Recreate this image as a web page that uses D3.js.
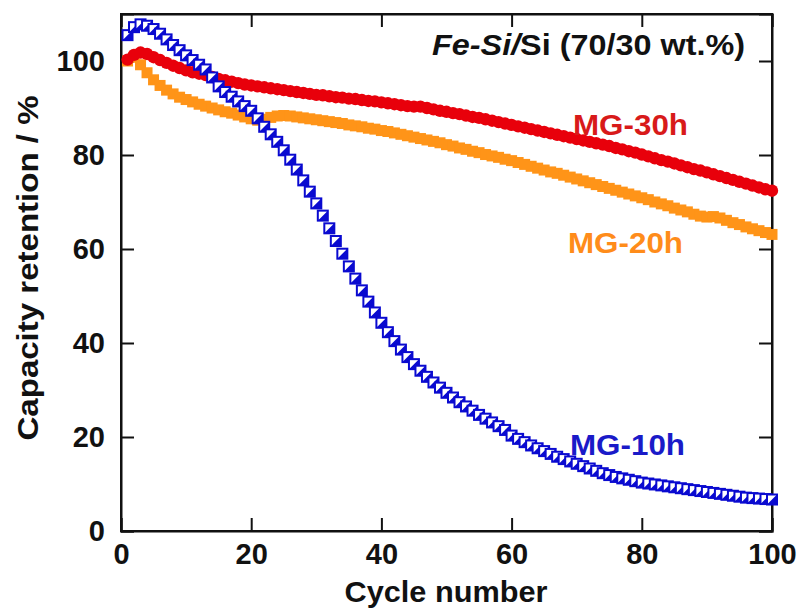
<!DOCTYPE html>
<html>
<head>
<meta charset="utf-8">
<script src="https://cdn.jsdelivr.net/npm/d3@7"></script>
<style>
html,body{margin:0;padding:0;background:#fff;}
svg{display:block;font-family:"Liberation Sans",Arial,sans-serif;}
</style>
</head>
<body>
<svg id="chart" width="802" height="609"></svg>
<script>
const cycles = [1,2,3,4,5,6,7,8,9,10,11,12,13,14,15,16,17,18,19,20,21,22,23,24,25,26,27,28,29,30,31,32,33,34,35,36,37,38,39,40,41,42,43,44,45,46,47,48,49,50,51,52,53,54,55,56,57,58,59,60,61,62,63,64,65,66,67,68,69,70,71,72,73,74,75,76,77,78,79,80,81,82,83,84,85,86,87,88,89,90,91,92,93,94,95,96,97,98,99,100];

const mg30h = [100.3,101.3,101.8,101.5,100.8,100.2,99.6,99.0,98.5,98.0,
97.6,97.3,97.0,96.6,96.2,95.9,95.6,95.3,95.0,94.8,
94.6,94.4,94.2,94.0,93.8,93.6,93.4,93.2,93.0,92.8,
92.7,92.5,92.3,92.2,92.0,91.9,91.7,91.5,91.4,91.2,
91.0,90.8,90.6,90.4,90.3,90.3,90.0,89.7,89.4,89.2,
88.9,88.7,88.4,88.1,87.9,87.6,87.3,87.0,86.7,86.4,
86.1,85.8,85.5,85.2,84.9,84.6,84.3,84.0,83.7,83.4,
83.1,82.8,82.5,82.2,81.9,81.5,81.2,80.8,80.5,80.1,
79.7,79.3,78.9,78.6,78.2,77.8,77.4,77.0,76.7,76.3,
75.9,75.5,75.1,74.7,74.3,73.9,73.5,73.1,72.7,72.4];

const mg20h = [100.0,100.8,99.2,97.5,96.0,94.8,93.8,93.0,92.3,91.8,
91.3,90.8,90.4,90.0,89.6,89.2,88.9,88.5,88.1,87.7,
87.4,87.6,88.0,88.3,88.4,88.3,88.1,87.9,87.7,87.5,
87.3,87.1,86.9,86.7,86.4,86.2,86.0,85.7,85.5,85.2,
85.0,84.7,84.4,84.1,83.8,83.5,83.2,82.9,82.6,82.2,
81.9,81.5,81.2,80.8,80.5,80.1,79.8,79.5,79.1,78.8,
78.4,78.0,77.6,77.2,76.8,76.4,76.1,75.7,75.3,74.9,
74.5,74.1,73.7,73.3,72.9,72.5,72.1,71.7,71.3,70.9,
70.5,70.0,69.6,69.2,68.7,68.3,67.9,67.4,67.0,66.8,
66.9,66.6,66.1,65.6,65.2,64.7,64.3,63.9,63.5,63.1];

const mg10h = [105.5,107.2,107.8,107.5,106.8,105.8,104.6,103.4,102.3,101.2,
100.2,99.2,98.2,96.5,94.6,93.4,92.4,91.4,90.4,89.4,
87.8,86.0,84.4,82.8,81.0,79.0,76.9,74.6,72.2,69.7,
67.1,64.4,61.7,59.0,56.3,53.7,51.2,48.8,46.5,44.3,
42.3,40.4,38.6,37.0,35.5,34.1,32.8,31.6,30.5,29.4,
28.4,27.4,26.5,25.6,24.7,23.9,23.1,22.3,21.5,20.3,
19.6,18.9,18.2,17.6,17.0,16.4,15.8,15.3,14.8,14.3,
13.8,13.3,12.8,12.3,11.9,11.5,11.2,10.9,10.6,10.3,
10.1,9.9,9.7,9.5,9.3,9.1,8.9,8.7,8.5,8.3,
8.1,7.9,7.7,7.5,7.3,7.1,7.0,6.9,6.8,6.7];

const xTicks = [0,20,40,60,80,100];
const yTicks = [0,20,40,60,80,100];
const seriesNames = ["MG-30h","MG-20h","MG-10h"];
const titleParts = ["Fe-Si/","Si (70/30 wt.%)"];
const xLabel = "Cycle number";
const yLabel = "Capacity retention / %";

const svg = d3.select("#chart");
const W = 802, H = 609;
const m = {left:121, top:14, right:30, bottom:78};
const x = d3.scaleLinear().domain([0,100]).range([m.left, W - m.right]);
const y = d3.scaleLinear().domain([0,110]).range([H - m.bottom, m.top]);

const red = "#e8000b", orange = "#ff9418", blue = "#0a0ad0";

// frame
svg.append("rect").attr("x", x(0)).attr("y", y(110)).attr("width", x(100)-x(0)).attr("height", y(0)-y(110))
  .attr("fill","none").attr("stroke","#111").attr("stroke-width",2);

const tl = 13;
// axes with inward ticks
const xb = svg.append("g").attr("transform",`translate(0,${y(0)})`)
  .call(d3.axisBottom(x).tickValues(xTicks).tickSize(-tl).tickPadding(12).tickFormat(d3.format("d")));
const xt = svg.append("g").attr("transform",`translate(0,${y(110)})`)
  .call(d3.axisTop(x).tickValues(xTicks).tickSize(-tl).tickFormat(""));
const yl = svg.append("g").attr("transform",`translate(${x(0)},0)`)
  .call(d3.axisLeft(y).tickValues(yTicks).tickSize(-tl).tickPadding(16).tickFormat(d3.format("d")));
const yr = svg.append("g").attr("transform",`translate(${x(100)},0)`)
  .call(d3.axisRight(y).tickValues(yTicks).tickSize(-tl).tickFormat(""));
[xb,xt,yl,yr].forEach(g=>{
  g.select(".domain").attr("stroke","#111").attr("stroke-width",2);
  g.selectAll(".tick line").attr("stroke","#111").attr("stroke-width",2);
  g.selectAll(".tick text").attr("fill","#111").attr("font-size",29).attr("font-weight","bold")
   .attr("font-family","'Liberation Sans',Arial,sans-serif");
});
xb.selectAll(".tick text").attr("dy","0.71em");

// data series
const plot = svg.append("g");
// MG-20h orange squares
const s2 = 11;
plot.append("g").selectAll("rect").data(cycles).join("rect")
  .attr("x", (d,i)=>x(d)-s2/2).attr("y",(d,i)=>y(mg20h[i])-s2/2)
  .attr("width",s2).attr("height",s2).attr("fill",orange);
// MG-30h red circles
plot.append("g").selectAll("circle").data(cycles).join("circle")
  .attr("cx",(d)=>x(d)).attr("cy",(d,i)=>y(mg30h[i])).attr("r",6.2).attr("fill",red);
// MG-10h blue half-filled squares
const s1 = 10;
const bg = plot.append("g");
cycles.forEach((d,i)=>{
  const cx = x(d), cy = y(mg10h[i]);
  const g = bg.append("g").attr("transform",`translate(${cx},${cy})`);
  g.append("rect").attr("x",-s1/2).attr("y",-s1/2).attr("width",s1).attr("height",s1)
    .attr("fill","#fff").attr("stroke",blue).attr("stroke-width",2);
  g.append("path").attr("d",`M${s1/2},${-s1/2}L${s1/2},${s1/2}L${-s1/2},${s1/2}Z`).attr("fill",blue);
});

// labels
const lab = [
  {t:seriesNames[0], x:573, y:135, c:"#d81a1a"},
  {t:seriesNames[1], x:568, y:253, c:"#ff8c1a"},
  {t:seriesNames[2], x:570, y:455, c:"#1a1ac8"}
];
svg.append("g").selectAll("text").data(lab).join("text")
  .attr("x",d=>d.x).attr("y",d=>d.y).attr("fill",d=>d.c)
  .attr("font-size",29).attr("font-weight","bold").attr("textLength",115).attr("lengthAdjust","spacingAndGlyphs")
  .text(d=>d.t);

// title
const tt = svg.append("text").attr("x",432).attr("y",55).attr("font-size",30).attr("font-weight","bold").attr("fill","#111")
  .attr("textLength",313).attr("lengthAdjust","spacingAndGlyphs");
tt.append("tspan").attr("font-style","italic").text(titleParts[0]);
tt.append("tspan").text(titleParts[1]);

// axis titles
svg.append("text").attr("x",446).attr("y",602).attr("text-anchor","middle").attr("font-size",30)
  .attr("font-weight","bold").attr("fill","#111").attr("textLength",203).attr("lengthAdjust","spacingAndGlyphs").text(xLabel);
svg.append("text").attr("transform","translate(38,268) rotate(-90)").attr("text-anchor","middle").attr("font-size",30)
  .attr("font-weight","bold").attr("fill","#111").attr("textLength",345).attr("lengthAdjust","spacingAndGlyphs").text(yLabel);
</script>
</body>
</html>
